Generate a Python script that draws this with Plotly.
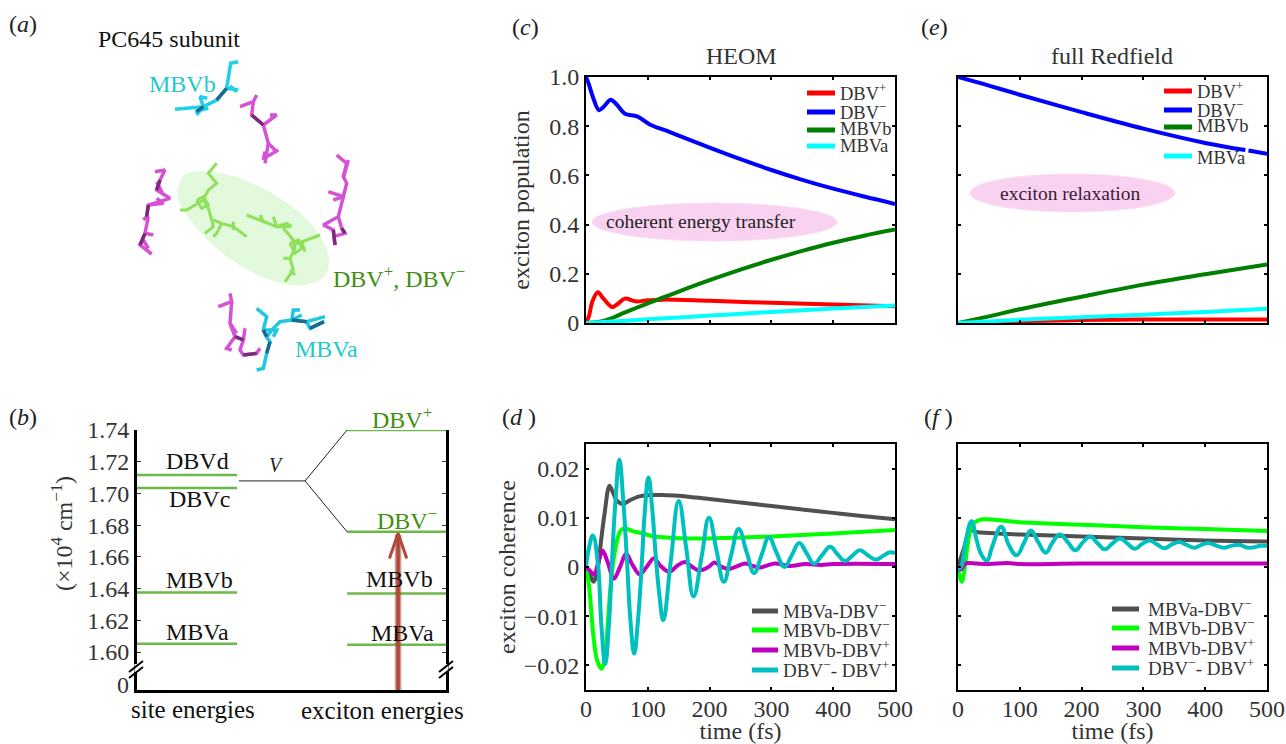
import plotly.graph_objects as go

# ---------- panel (c) HEOM populations ----------
c_t_blue = [0,4,11,21,29,40,50,63,83,104,130,150,200,250,300,350,400,450,500]
c_blue = [1.0,.975,.92,.865,.88,.908,.887,.851,.84,.806,.782,.762,.713,.666,.622,.582,.546,.514,.484]
c_t_red = [0,5,10,19,28,42,50,63,80,100,125,200,300,400,500]
c_red = [0,.03,.085,.125,.1,.065,.075,.099,.088,.092,.095,.09,.082,.075,.068]
c_t_green = [0,20,40,60,80,100,125,150,200,250,300,350,400,450,500]
c_green = [0,.004,.018,.04,.06,.08,.104,.128,.174,.217,.257,.293,.326,.355,.38]
c_t_cyan = [0,50,100,200,300,400,500]
c_cyan = [0,.007,.015,.03,.045,.059,.071]

# ---------- panel (e) full Redfield populations ----------
e_t_blue = [0,50,100,200,300,400,465,467,470,500]
e_blue = [1.0,.965,.928,.857,.79,.732,.703,None,.701,.688]
e_t_red = [0,50,100,200,300,400,500]
e_red = [0,.002,.007,.012,.014,.014,.014]
e_t_green = [0,50,100,200,300,400,500]
e_green = [0,.027,.056,.107,.156,.198,.238]
e_t_cyan = [0,100,200,300,400,500]
e_cyan = [0,.013,.023,.034,.045,.058]

# ---------- panel (d) HEOM coherences ----------
d_t_gray = [0,5,12,18,25,30,38,44,50,60,70,85,100,130,150,200,250,300,350,400,450,500]
d_gray = [0,-.001,-.003,-.001,.006,.0108,.0165,.015,.0135,.0128,.0135,.0143,.0146,.0146,.0145,.0138,.0131,.0124,.0117,.011,.0103,.0097]
d_t_green = [0,5,12,18,25,30,36,42,48,55,62,75,90,110,130,170,220,300,400,500]
d_green = [0,-.004,-.014,-.019,-.0207,-.019,-.01,-.001,.004,.0072,.0079,.0073,.0069,.0062,.006,.0058,.0059,.0062,.0068,.0075]
d_t_purple = [0,6,13,20,27,35,45,55,65,75,87,98,110,120,135,148,160,172,183,198,208,220,232,245,258,270,282,305,330,355,380,400,500]
d_purple = [0,-.0007,-.0015,.001,.0033,.001,-.0024,0,.0027,.0005,-.0015,0,.0018,.0003,-.001,.0003,.001,0,-.0007,0,.0009,0,-.0004,.0002,.0007,.0002,-.0001,.0007,.0002,.0006,.0004,.0006,.0006]
d_t_teal = [0,5,11,19,25,31,37,42,48,54,60,66,72,78,84,90,95,101,107,113,119,125,137,150,162,174,187,199,211,223,235,247,260,272,284,296,308,321,333,345,357,369,382,395,407,419,431,443,456,469,480,492,500]
d_teal = [0,.004,.0064,.001,-.012,-.0197,-.012,.001,.014,.0218,.014,.002,-.011,-.0176,-.011,0,.011,.0182,.012,.002,-.006,-.0108,.001,.0134,.004,-.006,.002,.01,.0035,-.003,.0025,.0077,.003,-.0012,.0024,.006,.003,0,.0024,.0049,.0028,.0007,.0024,.0041,.0026,.0012,.0023,.0034,.0024,.0015,.0022,.003,.0028]

# ---------- panel (f) Redfield coherences ----------
f_t_gray = [0,10,20,30,50,100,200,300,400,500]
f_gray = [0,.004,.0075,.0071,.0069,.0066,.0062,.0058,.0054,.0052]
f_t_green = [0,3,6,10,15,20,25,30,40,100,200,300,400,500]
f_green = [-.0005,-.002,-.003,-.001,.004,.0075,.0088,.0093,.0097,.0091,.0086,.0081,.0077,.0073]
f_t_purple = [0,5,10,15,30,50,80,100,200,500]
f_purple = [-.0005,-.0005,.0005,.0008,.0007,.0006,.0008,.0006,.0007,.0007]
f_t_teal = [0,5,12,22,30,38,47,55,70,82,95,107,118,130,142,153,165,178,190,202,214,226,238,250,262,274,286,298,310,322,334,346,358,370,382,394,405,417,430,442,455,470,490,500]
f_teal = [-.0005,0,.005,.0093,.0055,.0025,.0013,.004,.0082,.0045,.0024,.005,.0074,.005,.0029,.005,.0066,.005,.0034,.005,.0062,.0048,.0036,.0048,.0058,.0048,.0037,.0047,.0054,.0046,.0038,.0046,.0051,.0045,.0039,.0045,.0049,.0044,.0039,.0043,.0045,.0039,.0043,.0043]

# ---------- panel (b) energy levels (10^4 cm^-1) ----------
site_levels = [1.7117,1.7035,1.6375,1.6053]
exciton_levels = [1.74,1.6758,1.6369,1.6047]
site_span = [0,0.324]
exciton_span = [0.68,1.0]
split_x = [0.33,0.544,0.68,None,0.544,0.68]
split_y = [1.7079,1.7079,1.74,None,1.7079,1.6758]
arrow_x = [0.845,0.845]
arrow_y = [1.5755,1.674]
arrow_head_x = [0.817,0.845,0.873]
arrow_head_y = [1.659,1.675,1.659]
b_ticks = [1.60,1.62,1.64,1.66,1.68,1.70,1.72,1.74]
b_labels = ["1.60","1.62","1.64","1.66","1.68","1.70","1.72","1.74"]

# ---------- panel (a) molecule sketch, traced in picture units ----------
blob_x = [590,700,830,930,985,970,900,790,670,580,535,550,590]
blob_y = [515,530,590,670,770,830,855,830,760,670,590,530,515]
mbvb_x = [715,692,680,650,610,525,None,680,715,None,690,710,None,610,590,None,610,600,622,None,585,625]
mbvb_y = [185,190,265,300,320,328,None,265,270,None,258,275,None,320,345,None,320,290,295,None,335,325]
mbva_x = [770,800,790,800,820,840,875,880,900,None,875,920,975,None,920,930,972,None,800,810,800,790,770,None,790,830,820,None,875,905]
mbva_y = [925,950,990,1010,985,965,960,930,930,None,960,965,950,None,965,985,965,None,1010,1025,1060,1105,1110,None,990,990,1010,None,960,945]
mbv_dark_x = [680,650,None,610,590,None,875,920,None,930,972,None,800,790,None,810,800]
mbv_dark_y = [265,300,None,320,335,None,960,965,None,985,965,None,1010,990,None,1025,1060]
pink_x = [720,760,770,None,760,755,790,830,810,None,790,805,795,None,805,830,None,800,835,None,795,790,None,
          465,495,480,470,510,445,440,430,None,470,490,None,445,490,470,None,445,435,420,455,None,435,460,None,430,445,None,
          1010,1040,1030,1040,1030,985,None,1030,1000,None,1030,1015,970,1000,1005,None,1015,1025,1035,1000,None,1045,1030,None,
          655,695,690,None,695,690,705,680,695,None,705,730,720,730,770,780,None,730,735,None,690,710]
pink_y = [320,305,285,None,305,345,375,345,345,None,375,430,490,None,430,455,None,470,450,None,455,480,None,
          515,510,540,570,595,615,650,660,None,545,585,None,615,610,595,None,650,700,735,762,None,700,705,None,720,745,None,
          465,490,530,550,590,575,None,590,600,None,590,650,675,690,735,None,650,685,700,710,None,480,535,None,
          920,905,880,None,905,970,1010,1045,1050,None,1010,1020,1050,1065,1060,1045,None,1020,985,None,970,1000]
pink_dark_x = [755,790,None,480,470,None,445,440,None,435,420,None,1025,1035,None,1000,1005,None,705,730,None,730,770]
pink_dark_y = [345,375,None,540,570,None,615,650,None,700,735,None,685,700,None,690,735,None,1010,1020,None,1065,1060]
green_mol_x = [650,625,650,625,610,560,540,None,610,625,635,640,615,None,640,665,700,740,None,665,650,640,None,700,700,None,590,610,625,605,590,None,
               740,790,830,870,None,780,790,None,820,830,860,875,None,850,880,885,870,850,None,880,905,960,None,905,915,None,870,880,855,None,870,885,None,870,895,905,885,870]
green_mol_y = [490,520,550,570,600,630,630,None,600,625,660,680,700,None,660,670,680,710,None,670,700,710,None,665,690,None,600,590,615,625,600,None,
               645,665,680,680,None,645,665,None,650,680,670,680,None,685,720,745,775,775,None,735,725,705,None,725,755,None,775,810,845,None,810,825,None,730,720,745,760,730]

# ---------- text ----------
pop_ticks = [0,.2,.4,.6,.8,1.0]
pop_labels = ["0","0.2","0.4","0.6","0.8","1.0"]
coh_ticks = [-.02,-.01,0,.01,.02]
coh_labels = ["\u22120.02","\u22120.01","0","0.01","0.02"]
time_ticks = [0,100,200,300,400,500]
time_labels = ["0","100","200","300","400","500"]
pop_names = ["DBV<sup>+</sup>","DBV<sup>\u2212</sup>","MBVb","MBVa"]
coh_names = ["MBVa-DBV<sup>\u2212</sup>","MBVb-DBV<sup>\u2212</sup>","MBVb-DBV<sup>+</sup>","DBV<sup>\u2212</sup>- DBV<sup>+</sup>"]
pop_colors = ["#ff0000","#0000ff","#007f00","#00ffff"]
coh_colors = ["#505050","#00ff00","#bf00bf","#00bfbf"]

FONT = "Liberation Serif"
W, H = 1286, 744
def px(x): return x / W
def py(y): return 1 - y / H

fig = go.Figure()

def add_line(x, y, color, width, ax, name=None, spline=True, opacity=None, smoothing=1.0):
    fig.add_trace(go.Scatter(x=x, y=y, mode="lines", xaxis="x" + ax, yaxis="y" + ax,
                             name=name, showlegend=False, hoverinfo="skip", opacity=opacity,
                             line=dict(color=color, width=width,
                                       shape="spline" if spline else "linear", smoothing=smoothing)))

# panel a
fig.add_trace(go.Scatter(x=blob_x, y=blob_y, mode="lines", xaxis="x1", yaxis="y1", fill="toself",
                         fillcolor="#e2f9dc", showlegend=False, hoverinfo="skip",
                         line=dict(color="#e2f9dc", width=1, shape="spline")))
add_line(pink_x, pink_y, "#d552d5", 3.5, "1", spline=False)
add_line(pink_dark_x, pink_dark_y, "#7a2a78", 3.5, "1", spline=False)
add_line(green_mol_x, green_mol_y, "#8fe05a", 3, "1", spline=False)
add_line(mbvb_x, mbvb_y, "#1fd0ea", 3.5, "1", spline=False)
add_line(mbva_x, mbva_y, "#1fc8e0", 3.5, "1", spline=False)
add_line(mbv_dark_x, mbv_dark_y, "#1a6a90", 3.5, "1", spline=False)

# panel b
for lev in site_levels:
    add_line(site_span, [lev, lev], "#6db84a", 2.5, "2", spline=False)
for lev in exciton_levels:
    add_line(exciton_span, [lev, lev], "#6db84a", 2.5, "2", spline=False)
add_line(split_x, split_y, "#222222", 1, "2", spline=False)
add_line(arrow_x, arrow_y, "#b0483a", 6.5, "2", spline=False, opacity=0.55)
add_line(arrow_x, arrow_y, "#b0483a", 3.5, "2", spline=False)
add_line(arrow_head_x, arrow_head_y, "#b0483a", 3, "2", spline=False)

# panels c, e, d, f
for t, v, col, n in zip([c_t_red, c_t_blue, c_t_green, c_t_cyan], [c_red, c_blue, c_green, c_cyan], pop_colors, pop_names):
    add_line(t, v, col, 4, "3", n)
for t, v, col, n in zip([e_t_red, e_t_blue, e_t_green, e_t_cyan], [e_red, e_blue, e_green, e_cyan], pop_colors, pop_names):
    add_line(t, v, col, 4, "4", n)
for t, v, col, n, s in zip([d_t_gray, d_t_green, d_t_purple, d_t_teal], [d_gray, d_green, d_purple, d_teal], coh_colors, coh_names, [1, 1, 1, 1.25]):
    add_line(t, v, col, 4, "5", n, smoothing=s)
for t, v, col, n, s in zip([f_t_gray, f_t_green, f_t_purple, f_t_teal], [f_gray, f_green, f_purple, f_teal], coh_colors, coh_names, [1, 1, 1, 1.25]):
    add_line(t, v, col, 4, "6", n, smoothing=s)

def xdom(a, b): return [px(a), px(b)]
def ydom(top, bottom): return [py(bottom), py(top)]
common = dict(showline=True, linecolor="black", linewidth=2, ticks="inside", ticklen=3, tickcolor="black",
              tickwidth=1.5, showgrid=False, zeroline=False, mirror="ticks", automargin=False,
              tickfont=dict(family=FONT, size=24, color="#333333"))
def title(text, standoff):
    return dict(text=text, font=dict(family=FONT, size=24, color="#333333"), standoff=standoff)

hidden = dict(visible=False, showgrid=False, zeroline=False, automargin=False)
layout = dict(
    width=W, height=H, margin=dict(l=0, r=0, t=0, b=0, autoexpand=False), paper_bgcolor="white", plot_bgcolor="rgba(0,0,0,0)",
    showlegend=False, font=dict(family=FONT, color="#333333"),
    xaxis1=dict(domain=xdom(0, 480), range=[0, 1440], **hidden),
    yaxis1=dict(domain=ydom(0, 390), range=[1170, 0], anchor="x1", **hidden),
    xaxis2=dict(domain=xdom(137, 446), range=[0, 1], anchor="y2", showline=True, linecolor="black", linewidth=3,
                ticks="", showticklabels=False, showgrid=False, zeroline=False, automargin=False),
    yaxis2=dict(domain=ydom(430, 690), range=[1.5761, 1.74], anchor="x2", showline=True, linecolor="black", linewidth=3,
                mirror="ticks", ticks="inside", ticklen=4, tickcolor="#333333", showgrid=False, zeroline=False, automargin=False,
                tickvals=b_ticks, ticktext=b_labels, tickfont=dict(family=FONT, size=24, color="#333333")),
    xaxis3=dict(domain=xdom(586, 895), range=[0, 500], anchor="y3", tickvals=time_ticks, showticklabels=False, **common),
    yaxis3=dict(domain=ydom(77, 323), range=[0, 1], anchor="x3", tickvals=pop_ticks, ticktext=pop_labels,
                title=title("exciton population", 13), **common),
    xaxis4=dict(domain=xdom(958, 1267), range=[0, 500], anchor="y4", tickvals=time_ticks, showticklabels=False, **common),
    yaxis4=dict(domain=ydom(77, 323), range=[0, 1], anchor="x4", tickvals=pop_ticks, showticklabels=False, **common),
    xaxis5=dict(domain=xdom(586, 895), range=[0, 500], anchor="y5", tickvals=time_ticks, ticktext=time_labels,
                ticklabelstandoff=-4, title=title("time (fs)", 8), **common),
    yaxis5=dict(domain=ydom(444, 690), range=[-.025, .025], anchor="x5", tickvals=coh_ticks, ticktext=coh_labels,
                title=title("exciton coherence", 1), **common),
    xaxis6=dict(domain=xdom(958, 1267), range=[0, 500], anchor="y6", tickvals=time_ticks, ticktext=time_labels,
                ticklabelstandoff=-4, title=title("time (fs)", 8), **common),
    yaxis6=dict(domain=ydom(444, 690), range=[-.025, .025], anchor="x6", tickvals=coh_ticks, showticklabels=False, **common),
)
fig.update_layout(**layout)

anns = []
def text(x, y, s, size=24, color="#222222", anchor="center", angle=0):
    anns.append(dict(x=px(x), y=py(y), xref="paper", yref="paper", text=s, showarrow=False, xanchor=anchor,
                     yanchor="middle", textangle=angle, font=dict(family=FONT, size=size, color=color)))

GREEN = "#3f8f0f"; CYAN = "#22c8cc"
for x, y, s in [(23, 24, "(<i>a</i>)"), (23, 417, "(<i>b</i>)"), (525, 27, "(<i>c</i>)"), (519, 417, "(<i>d</i> )"),
                (934, 27, "(<i>e</i>)"), (938, 417, "(<i>f</i> )")]:
    text(x, y, s)
text(169, 39, "PC645 subunit", color="#111111")
text(182, 84, "MBVb", color=CYAN)
text(326, 349, "MBVa", color=CYAN)
text(399, 277, "DBV<sup>+</sup>, DBV<sup>\u2212</sup>", color=GREEN)
text(198, 461, "DBVd", color="#111111")
text(199, 499, "DBVc", color="#111111")
text(199, 580, "MBVb", color="#111111")
text(198, 632, "MBVa", color="#111111")
text(402, 418, "DBV<sup>+</sup>", color=GREEN)
text(407, 519, "DBV<sup>\u2212</sup>", color=GREEN)
text(399, 579, "MBVb", color="#111111")
text(402, 633, "MBVa", color="#111111")
text(276, 465, "<i>V</i>", size=20)
text(193, 709, "site energies", size=25, color="#111111")
text(382, 710, "exciton energies", size=25, color="#111111")
text(62, 533, "(\u00d710<sup>4</sup> cm<sup>\u22121</sup>)", color="#333333", angle=-90)
text(742, 56, "HEOM", color="#333333")
text(1112, 56, "full Redfield", color="#333333")
text(701, 222, "coherent energy transfer", size=19.5)
text(1070, 193, "exciton relaxation", size=19.5, color="#3a1a3a")

shapes = []
def seg(x0, y0, x1, y1, color, width):
    shapes.append(dict(type="line", xref="paper", yref="paper", x0=px(x0), y0=py(y0), x1=px(x1), y1=py(y1),
                       line=dict(color=color, width=width), layer="above"))

# highlighted ellipses
shapes.append(dict(type="circle", xref="paper", yref="paper", x0=px(592), x1=px(837), y0=py(241), y1=py(203),
                   fillcolor="#fad2f1", line=dict(color="#fbdff5", width=1), layer="below"))
shapes.append(dict(type="circle", xref="paper", yref="paper", x0=px(970), x1=px(1175), y0=py(212), y1=py(174),
                   fillcolor="#fad2f1", line=dict(color="#fbdff5", width=1), layer="below"))
# axis breaks in panel b
seg(137, 664, 137, 672, "white", 5)
seg(446, 664, 446, 672, "white", 5)
for xa in (129, 439):
    seg(xa, 672, xa + 14, 661, "black", 2)
    seg(xa, 678, xa + 14, 667, "black", 2)

# legend keys
def legend(x0, x1, tx, ys, tys, names, colors, width, size):
    for y, ty, n, c in zip(ys, tys, names, colors):
        seg(x0, y, x1, y, c, width)
        text(tx, ty, n, size=size, color="#333333", anchor="left")
legend(807, 835, 838, [93, 112, 130, 146], [92, 111, 129, 146], pop_names, pop_colors, 5, 18.5)
legend(1164, 1192, 1195, [91, 110, 127, 156], [90, 109, 126, 158], pop_names, pop_colors, 5, 18.5)
legend(752, 778, 781, [611, 630, 650, 670], [610, 629, 649, 669], coh_names, coh_colors, 5, 19)
legend(1112, 1139, 1146, [609, 628, 648, 668], [608, 627, 647, 667], coh_names, coh_colors, 5, 19)

# "0" label of the broken axis in panel b
text(123, 685, "0", color="#333333")

fig.update_layout(annotations=anns, shapes=shapes)
fig.write_html("out.html", config={"displayModeBar": False},
               post_script="document.body.style.margin='0';document.body.style.overflow='hidden';")
